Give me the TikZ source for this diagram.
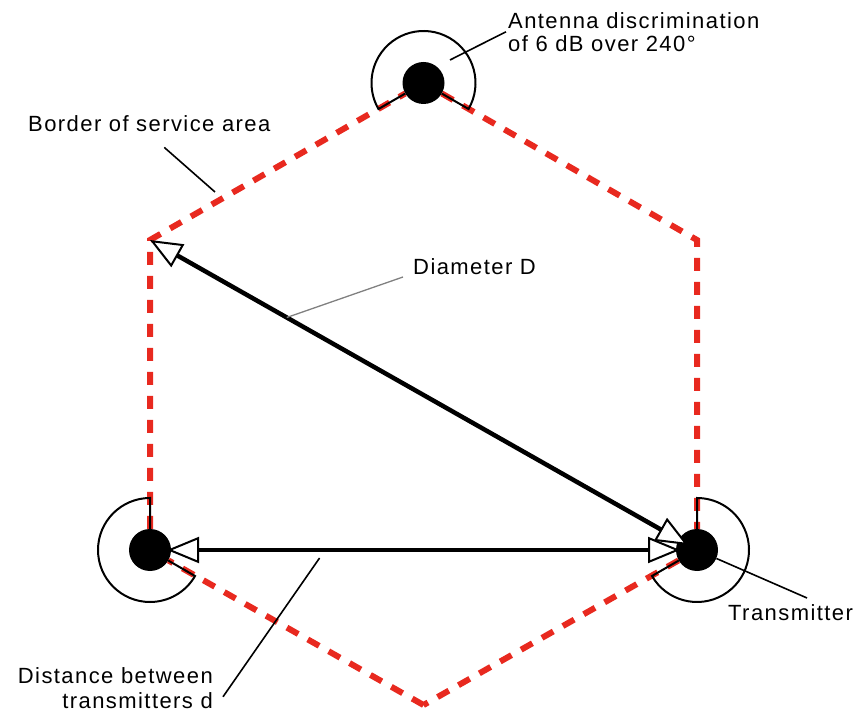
\documentclass[tikz,border=0pt]{standalone}
\usepackage{fontspec}
\setmainfont{Liberation Sans}[LetterSpace=6.5]
\usetikzlibrary{arrows.meta,calc}

\begin{document}
\begin{tikzpicture}[x=1pt,y=1pt,
    txDot/.style={circle,fill=black,minimum size=42pt,inner sep=0pt},
    border/.style={color=kRed,line width=6pt,dash pattern=on 13pt off 11pt},
    antenna/.style={line width=2pt},
    dimArrow/.style={line width=4.5pt,>={Triangle[fill=white,length=32pt,width=26pt,line width=2pt]},<->},
    leader/.style={line width=1.6pt},
    lbl/.style={font=\fontsize{22}{23}\selectfont,inner sep=0pt}]
  \definecolor{kRed}{rgb}{0.91,0.16,0.12}
  \definecolor{kGrey}{rgb}{0.5,0.5,0.5}
  \useasboundingbox (0,0) rectangle (858,720);

  \coordinate (cUL) at (150,480);
  \coordinate (cUR) at (697,480);
  \coordinate (cBot) at (423.5,15);
  \node[txDot] (tTop) at (423.5,637) {};
  \node[txDot] (tLeft) at (150,170) {};
  \node[txDot] (tRight) at (697,170) {};

  \draw[border] (cBot) -- (tLeft) -- (cUL) -- (tTop) -- (cUR) -- (tRight) -- (cBot);

  \foreach \n/\s/\e in {tTop/-30/210, tLeft/90/330, tRight/-150/90}
  {
    \draw[antenna] ($(\n.center)+(\s:21)$) -- ($(\n.center)+(\s:52)$) arc[start angle=\s,end angle=\e,radius=52] -- ($(\n.center)+(\e:21)$);
  }

  \draw[dimArrow,shorten >=10pt] (cUL) -- (tRight.center);
  \draw[dimArrow,shorten <=17pt,shorten >=17pt] (tLeft.center) -- (tRight.center);

  \node[lbl,anchor=north west,align=left] (antLabel) at (508,708) {Antenna discrimination\\of 6 dB over 240°};
  \node[lbl,anchor=base west] (borderLabel) at (28,588) {Border of service area};
  \node[lbl,anchor=base west] (diamLabel) at (413,445) {Diameter D};
  \node[lbl,anchor=base west] (txLabel) at (728,100) {Transmitter};
  \node[lbl,anchor=north east,align=right,font=\fontsize{22}{25}\selectfont] (distLabel) at (213,53) {Distance between\\transmitters d};

  \coordinate (antFoot) at (450,660);
  \coordinate (borderFoot) at (215,528);
  \coordinate (diamFoot) at ($(cUL)!0.25!(tRight)$);
  \coordinate (txFoot) at (807,122);
  \coordinate (distFoot) at ($(tLeft)!0.31!(tRight)+(0,-8)$);

  \draw[leader] (antFoot) -- ([xshift=-2pt]antLabel.west);
  \draw[leader] ([xshift=15pt,yshift=-15pt]borderLabel.south) -- (borderFoot);
  \draw[leader,color=kGrey,line width=1.3pt] ([xshift=-10pt,yshift=-2pt]diamLabel.base west) -- (diamFoot);
  \draw[leader] (tRight) -- (txFoot);
  \draw[leader] (distFoot) -- ([xshift=10pt,yshift=-9pt]distLabel.east);
\end{tikzpicture}
\end{document}
